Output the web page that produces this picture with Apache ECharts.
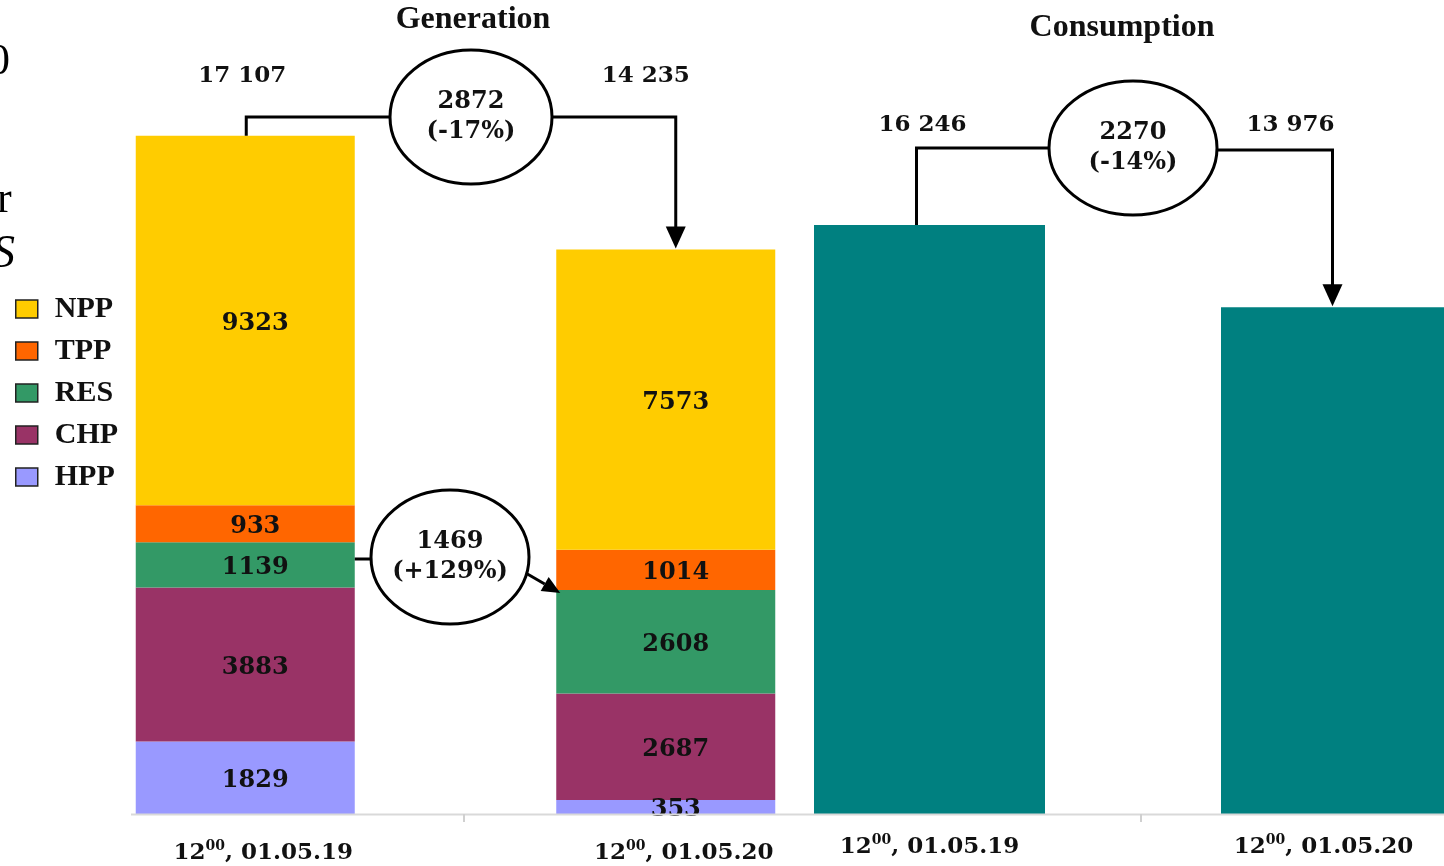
<!DOCTYPE html>
<html><head><meta charset="utf-8">
<script src="https://cdn.jsdelivr.net/npm/echarts@6/dist/echarts.min.js"></script>
<style>html,body{margin:0;padding:0;background:#fff;}#c{width:1444px;height:866px;}</style>
</head><body><div id="c"></div>
<script>
// ---- data ----
const dates = ['01.05.19', '01.05.20'];
const hourLabel = '12';
const minuteLabel = '00';
const sources = ['NPP', 'TPP', 'RES', 'CHP', 'HPP'];
const npp = [9323, 7573];
const tpp = [933, 1014];
const res = [1139, 2608];
const chp = [3883, 2687];
const hpp = [1829, 353];
const consumption = [16246, 13976];
const titles = ['Generation', 'Consumption'];

// ---- styling ----
const colors = { NPP: '#FFCC00', TPP: '#FF6600', RES: '#339966', CHP: '#993366', HPP: '#9999FF' };
const cons_color = '#008080';
const numFont = 'DejaVu Serif';
const ink = '#111';

const genTotals = dates.map((d, i) => npp[i] + tpp[i] + res[i] + chp[i] + hpp[i]);
const fmtThousands = v => { const s = String(v); return s.length > 3 ? s.slice(0, s.length - 3) + ' ' + s.slice(-3) : s; };
const pct = (a, b) => { const p = Math.round((b - a) / a * 100); return (p > 0 ? '+' : '') + p + '%'; };

const chart = echarts.init(document.getElementById('c'), null, { renderer: 'canvas' });

const labelRich = {
  m: { fontFamily: numFont, fontWeight: 'bold', fontSize: 23, color: ink, lineHeight: 26, verticalAlign: 'bottom' },
  sup: { fontFamily: numFont, fontWeight: 'bold', fontSize: 14, color: ink, lineHeight: 26, verticalAlign: 'top' },
  pad: { width: 26, lineHeight: 26 }
};
const axisFmt = v => '{m|' + hourLabel + '}{sup|' + minuteLabel + '}{m|, ' + v + '}';
const axisFmtCons = (v, i) => axisFmt(v) + (i === 1 ? '{pad|}' : '');

const segLabel = {
  show: true, position: 'inside', offset: [10, 3], color: ink, fontFamily: numFont, fontWeight: 'bold', fontSize: 24
};
const stackOrder = [['HPP', hpp], ['CHP', chp], ['RES', res], ['TPP', tpp], ['NPP', npp]];

const series = stackOrder.map(([name, arr]) => ({
  name, type: 'bar', stack: 'gen', xAxisIndex: 0, yAxisIndex: 0,
  data: arr, barWidth: 219, itemStyle: { color: colors[name] }, label: segLabel,
  emphasis: { disabled: true }, animation: false
}));
series.push({
  name: 'Consumption', type: 'bar', xAxisIndex: 1, yAxisIndex: 1, data: consumption,
  barWidth: 231, itemStyle: { color: cons_color }, emphasis: { disabled: true }, animation: false
});

chart.setOption({
  animation: false,
  backgroundColor: '#fff',
  legend: {
    data: sources, orient: 'vertical', left: 10, top: 289,
    icon: 'rect', itemWidth: 22, itemHeight: 18, itemGap: 12,
    itemStyle: { borderColor: '#222', borderWidth: 1.5 },
    textStyle: { fontFamily: 'Liberation Serif', fontWeight: 'bold', fontSize: 30, color: ink, lineHeight: 30, padding: [0, 0, 0, 12] },
    selectedMode: false
  },
  grid: [
    { left: 35, width: 841, top: 21, bottom: 52, outerBoundsMode: 'none', containLabel: false },
    { left: 726, width: 814, top: 89, bottom: 52, outerBoundsMode: 'none', containLabel: false }
  ],
  xAxis: [
    { gridIndex: 0, type: 'category', data: dates, axisLine: { show: false }, axisTick: { show: false },
      axisLabel: { margin: 25, formatter: axisFmt, rich: labelRich, padding: [0, 0, 0, 36] } },
    { gridIndex: 1, type: 'category', data: dates, axisLine: { show: false }, axisTick: { show: false },
      axisLabel: { margin: 19, formatter: axisFmtCons, rich: labelRich } }
  ],
  yAxis: [
    { gridIndex: 0, type: 'value', min: 0, max: 20000, show: false },
    { gridIndex: 1, type: 'value', min: 0, max: 20000, show: false }
  ],
  series
});

// ---- annotations anchored on bar tops ----
const P = (gi, x, y) => chart.convertToPixel({ xAxisIndex: gi, yAxisIndex: gi }, [x, y]);
const g0 = P(0, 0, genTotals[0]), g1 = P(0, 1, genTotals[1]);
const c0 = P(1, 0, consumption[0]), c1 = P(1, 1, consumption[1]);
const r0 = P(0, 0, hpp[0] + chp[0] + res[0] / 2);
const r1top = P(0, 1, hpp[1] + chp[1] + res[1]);
const baseY = P(0, 0, 0)[1];

const stroke = { stroke: '#000', lineWidth: 3, fill: null };
const txt = (x, y, text, size, extra) => Object.assign({
  type: 'text', x, y, z: 100,
  style: Object.assign({ text, fontFamily: numFont, fontWeight: 'bold', fontSize: size, fill: ink, align: 'center', verticalAlign: 'middle', lineHeight: size + 6 }, extra || {})
});
const ell = (cx, cy, rx, ry) => ({ type: 'ellipse', z: 90, shape: { cx, cy, rx, ry }, style: { stroke: '#000', lineWidth: 3, fill: '#fff' } });
const poly = pts => ({ type: 'polyline', z: 80, shape: { points: pts }, style: stroke });
const arrowDown = (x, tipY) => ({ type: 'polygon', z: 95, shape: { points: [[x - 10, tipY - 22], [x + 10, tipY - 22], [x, tipY]] }, style: { fill: '#000' } });

const gE = { cx: 471, cy: 117, rx: 81, ry: 67 };
const cE = { cx: 1133, cy: 148, rx: 84, ry: 67 };
const rE = { cx: 450, cy: 557, rx: 79, ry: 67 };

const resTip = [r1top[0] - 219 / 2 + 4, r1top[1] + 3];
const resStart = [rE.cx + rE.rx * Math.cos(0.25), rE.cy + rE.ry * Math.sin(0.25)];
const ang = Math.atan2(resTip[1] - resStart[1], resTip[0] - resStart[0]);
const ah = 18, aw = 8;
const base = [resTip[0] - ah * Math.cos(ang), resTip[1] - ah * Math.sin(ang)];
const resHead = [resTip, [base[0] + aw * Math.sin(ang), base[1] - aw * Math.cos(ang)], [base[0] - aw * Math.sin(ang), base[1] + aw * Math.cos(ang)]];

const gLeftX = g0[0] + 1, gRightX = g1[0] + 10;
const cLeftX = c0[0] - 13, cRightX = c1[0] - 4;

const graphics = [
  txt(473, 20, titles[0], 32, { fontFamily: 'Liberation Serif' }),
  txt(1122, 28, titles[1], 32, { fontFamily: 'Liberation Serif' }),
  { type: 'text', x: -12, y: 40, style: { text: '0', fontFamily: 'Liberation Serif', fontSize: 44, fill: '#000' } },
  { type: 'text', x: -3, y: 178, style: { text: 'r', fontFamily: 'Liberation Serif', fontSize: 44, fill: '#000' } },
  { type: 'text', x: -8, y: 232, style: { text: 'S', fontFamily: 'Liberation Serif', fontStyle: 'italic', fontSize: 46, fill: '#000' } },
  { type: 'line', z: 5, shape: { x1: 131, y1: baseY + 0.5, x2: 1444, y2: baseY + 0.5 }, style: { stroke: '#d9d9d9', lineWidth: 2 } },
  { type: 'line', z: 5, shape: { x1: 464, y1: baseY, x2: 464, y2: baseY + 8 }, style: { stroke: '#d0d0d0', lineWidth: 2 } },
  { type: 'line', z: 5, shape: { x1: 1141, y1: baseY, x2: 1141, y2: baseY + 8 }, style: { stroke: '#d0d0d0', lineWidth: 2 } },
  txt(g0[0] - 3, 76, fmtThousands(genTotals[0]), 23),
  txt(g1[0] - 20, 76, fmtThousands(genTotals[1]), 23),
  poly([[gLeftX, g0[1]], [gLeftX, gE.cy], [gE.cx, gE.cy]]),
  poly([[gE.cx, gE.cy], [gRightX, gE.cy], [gRightX, g1[1] - 20]]),
  arrowDown(gRightX, g1[1] - 1),
  ell(gE.cx, gE.cy, gE.rx, gE.ry),
  txt(gE.cx, gE.cy, (genTotals[0] - genTotals[1]) + '\n(' + pct(genTotals[0], genTotals[1]) + ')', 24),
  txt(c0[0] - 7, 125, fmtThousands(consumption[0]), 23),
  txt(c1[0] - 46, 125, fmtThousands(consumption[1]), 23),
  poly([[cLeftX, c0[1]], [cLeftX, cE.cy], [cE.cx, cE.cy]]),
  poly([[cE.cx, cE.cy + 2], [cRightX, cE.cy + 2], [cRightX, c1[1] - 20]]),
  arrowDown(cRightX, c1[1] - 1),
  ell(cE.cx, cE.cy, cE.rx, cE.ry),
  txt(cE.cx, cE.cy, (consumption[0] - consumption[1]) + '\n(' + pct(consumption[0], consumption[1]) + ')', 24),
  poly([[g0[0] + 219 / 2, r0[1] - 6], [rE.cx, r0[1] - 6]]),
  poly([resStart, base]),
  { type: 'polygon', z: 95, shape: { points: resHead }, style: { fill: '#000' } },
  ell(rE.cx, rE.cy, rE.rx, rE.ry),
  txt(rE.cx, rE.cy, (res[1] - res[0]) + '\n(' + pct(res[0], res[1]) + ')', 24)
];
chart.setOption({ graphic: graphics });
</script>
</body></html>
